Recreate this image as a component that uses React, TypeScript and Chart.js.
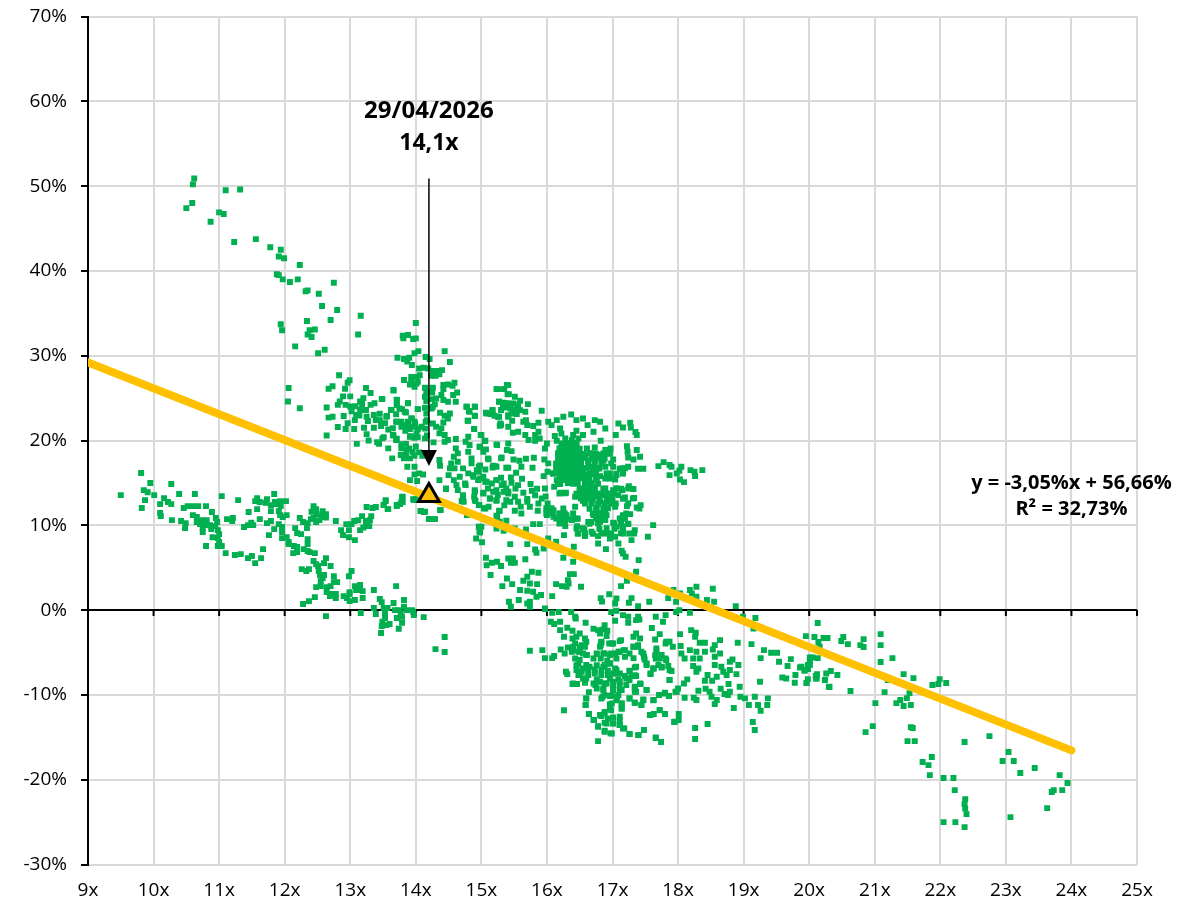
import React, { useEffect, useRef } from "react";
import { Chart, registerables } from "chart.js";

Chart.register(...registerables);

// multiple (x) , forward return % (y)
const upperLeftArm: number[][] = [[10.62,50.9],[10.6,50.2],[10.59,48],[10.5,47.4],[11.1,49.5],[11.32,49.6],[11,46.9],[11.07,46.7],[10.87,45.8],[11.23,43.4],[11.56,43.75],[11.78,42.8],[11.94,42.5],[11.91,41.7],[11.99,41.5],[12.23,40.7],[11.88,39.6],[11.91,39.5],[11.97,39],[12.08,38.7],[12.2,39],[12.75,38.6],[12.32,37.6],[12.35,37.7],[12.52,37.3],[12.57,35.85],[12.8,35.4],[13.16,34.7],[12.7,34.2],[12.34,34.1],[11.94,33.7],[11.96,33],[12.46,33.1],[12.38,33],[12.35,32.5],[12.41,32.2],[13.12,32.5],[12.16,31.1],[12.61,30.7],[12.51,30.3],[12.06,26.2],[12.05,24.6],[12.23,23.8]];

const upperMidCluster: number[][] = [[12.83,27.7],[12.99,27.1],[12.96,26.8],[12.73,26.4],[12.67,26.1],[12.92,26.1],[13.24,26.2],[13.31,25.6],[13.66,25.9],[13,25.2],[12.89,25.2],[13.2,25],[13.15,24.6],[13.48,24.9],[13.71,24.8],[12.64,23.9],[12.81,24.2],[12.84,24.6],[12.93,24.2],[13,24],[13.31,24.2],[13.37,24.4],[13.71,24.2],[13.88,24.4],[14.03,23.7],[13.24,23.6],[13.15,23.6],[13.62,23.6],[13.79,23.7],[13.85,23.3],[12.9,22.9],[12.73,22.8],[12.67,22.7],[13.09,23],[13.25,22.8],[13.36,23],[13.56,22.9],[13.45,22.4],[13.27,22.3],[13.39,22.4],[13.53,22.05],[13.07,22.4],[12.96,22.05],[12.81,21.6],[12.93,21.35],[13.06,21.35],[13.21,21.5],[13.36,21.5],[13.47,21.7],[13.71,22.2],[13.79,21.8],[13.88,22],[13.94,22.6],[13.99,22],[13.91,21.35],[14.03,21.3],[14.14,21.4],[14.17,22.4],[12.64,20.6],[13.25,20.75],[13.1,19.6],[13.28,20],[13.41,19.8],[13.44,19.6],[13.51,20.4],[13.66,20.6],[13.71,20.2],[13.92,20.5],[14.03,20.4],[14.17,20.6],[13.02,23.45],[13.08,24.05],[13.18,24.3],[13.14,22.95],[13.45,23.15],[13.58,21.3],[13.65,21.45],[13.84,21.15],[13.7,23.1]];

const peakCluster: number[][] = [[14,33.85],[13.8,32.35],[13.88,32.43],[13.81,32.04],[14,32.04],[13.96,31.96],[14.04,30.54],[13.98,30.3],[14.44,30.54],[13.72,29.76],[13.82,29.6],[13.9,29.76],[13.87,29.3],[13.94,28.9],[14.15,29.84],[14.21,29.6],[14.52,29.25],[14.05,28.5],[14.12,28.58],[14.19,28.5],[14.4,28.3],[14.32,28.2],[14.26,28.2],[14.24,27.64],[14.3,27.64],[14.36,27.8],[13.82,27.13],[13.93,27.5],[14.01,27.5],[14.06,27.7],[13.93,26.93],[14.03,26.93],[13.91,26.6],[13.98,26.34],[14.01,26.73],[14.14,26.22],[14.26,26.22],[14.42,26.54],[14.49,26.6],[14.59,26.8],[14.56,26.46],[14.42,26.06],[14.25,25.67],[14.16,25.67],[14.63,25.67],[14.57,25.36],[13.66,25.95],[13.49,24.88],[13.71,24.77],[14.14,25.16],[14.39,25.36],[14.31,24.96],[14.24,24.88],[14.16,24.65],[14.42,24.77],[14.49,24.57],[14.61,24.57],[13.88,24.41],[13.71,24.18],[14.29,24.26],[14.26,23.98],[14.14,23.86],[14.03,23.7],[13.63,23.59],[13.75,23.78],[13.83,23.39],[14.77,23.98],[14.9,23.98],[14.81,23.47],[14.37,23.27],[14.52,23.19],[14.44,22.92],[14.9,22.92],[14.16,23.19],[14.24,23.78],[13.55,22.8],[13.93,22.6],[13.88,22.2],[13.7,22.2],[13.78,22.2],[13.98,22.2],[14.15,22.2],[14.26,22],[14.42,22.13],[14.49,22.6],[14.79,22.33],[15.08,23.19],[15.17,23.59],[15.2,22.92],[15.27,22.8],[15.23,26.06],[15.33,26.06],[15.39,26.54],[15.4,25.44],[15.27,24.57],[15.33,24.1],[15.39,24.37],[15.3,23.59],[15.41,22.99],[15.29,22]];

const lowerPeakCluster: number[][] = [[13.78,21.62],[13.88,21.43],[13.96,21.62],[14.03,21.43],[14.09,21.62],[14.31,21.62],[14.39,21.43],[14.44,20.64],[14.49,20.05],[14.61,20.17],[14.89,21.35],[15,20.64],[15.05,19.93],[15.28,21.74],[15.41,21.62],[13.49,20.25],[13.65,20.64],[13.7,20.05],[13.91,20.45],[14.01,20.84],[13.98,20.33],[14.14,20.25],[14.27,19.78],[14.36,20.84],[14.44,19.85],[14.8,20.45],[14.76,19.85],[14.82,19.46],[15.23,19.54],[14.97,19.27],[13.58,19.07],[13.78,19.07],[13.86,18.87],[13.64,17.89],[13.77,18.28],[13.82,17.89],[13.91,17.89],[13.98,18.2],[14.61,19.07],[14.64,18.48],[14.58,18.08],[14.8,18.68],[14.85,17.89],[15.1,17.89],[15.03,18.68],[15.3,17.89],[14.36,17.69],[14.37,17.02],[13.87,16.9],[13.98,16.9],[14.05,16.12],[14.11,16],[13.98,16],[14.54,17.3],[14.64,17.5],[14.52,16.71],[14.59,16.71],[14.72,16.71],[14.85,17.3],[14.96,16.9],[15.18,17.02],[15.23,16.9],[15.38,16.79],[13.91,15.33],[14.02,15.22],[14.36,15.33],[14.5,15.92],[14.58,15.33],[14.67,15.73],[14.8,16.12],[14.87,15.92],[14.96,16.32],[15.03,15.73],[14.95,15.33],[15.08,15.14],[15.23,15.33],[15.34,14.94],[14.62,14.74],[14.76,14.74],[14.46,14.27],[14.64,14.15],[14.9,14.15],[15.03,13.76],[15.18,13.96],[15.25,13.57],[15.41,13.96],[14.72,13.37],[14.89,13.37],[15.13,13.17],[15.23,12.97],[15.38,12.97],[14.7,12.86],[14.91,12.86],[14.96,12.39],[15.27,11.68],[15.23,11.13],[15.28,10.42],[13.54,12.97],[13.51,12.39],[13.58,11.91],[13.8,13.37],[13.78,12.78],[13.71,12.39],[13.96,13.09],[14.37,11.8],[14.07,11.68],[14.14,11.6],[14.2,10.73],[14.29,10.73],[14.96,9.83],[14.98,9.16],[14.78,11.2],[15.04,12],[13.78,19.55],[13.85,19.6],[13.9,19.05],[14,19.3],[14.05,18.6],[14.1,18.2],[13.95,18.65],[13.85,18.35]];

const leftArm: number[][] = [[9.5,13.56],[9.81,16.16],[9.95,14.98],[10.27,14.86],[9.85,14.15],[9.91,13.9],[10.01,13.56],[9.87,12.97],[10.16,13.2],[10.1,12.5],[10.22,12.74],[10.27,12.5],[10.39,13.68],[10.63,13.68],[9.82,12.03],[10.1,11.44],[10.11,11.08],[10.28,10.61],[10.42,10.5],[10.49,10.26],[10.48,9.67],[10.46,12.03],[10.52,12.26],[10.6,12.26],[10.68,12.26],[10.8,12.26],[10.6,11.2],[10.66,10.97],[10.89,11.56],[11.04,13.44],[11.29,12.97],[10.66,10.38],[10.74,10.6],[10.81,10.6],[10.95,10.85],[10.97,10.38],[10.71,10.14],[10.78,10.02],[10.86,10],[10.94,9.9],[10.75,9.2],[10.75,9.67],[10.88,9.55],[10.98,9.43],[11,8.96],[10.9,8.6],[10.98,8.5],[11,8.02],[10.98,7.55],[10.8,7.55],[11.04,7.55],[11.1,6.72],[11.24,6.49],[11.33,6.6],[11.44,6.13],[11.5,6.37],[11.55,5.54],[11.64,6.13],[11.67,7.19],[11.12,10.73],[11.21,10.85],[11.2,10.5],[11.38,9.79],[11.44,10.02],[11.49,10.3],[11.52,10.02],[11.45,11.56],[11.62,10.73],[11.73,10.26],[11.79,10.5],[11.76,8.84],[11.84,9.55],[11.91,10.14],[11.58,13.2],[11.55,12.85],[11.58,11.91],[11.73,13.09],[11.84,13.68],[11.71,12.66],[11.79,12.38],[11.79,11.67],[11.62,12.74],[11.85,12.74],[11.93,12.85],[12.02,12.85],[11.94,12.26],[11.87,12.5],[11.91,11.67],[12.03,11.2],[11.97,10.97],[11.93,11.2]];

const midArm: number[][] = [[11.96,9.79],[11.96,9.2],[11.96,8.49],[12.03,8.6],[12.06,8.02],[12.06,7.78],[12.14,7.55],[12.19,7.43],[12.19,6.84],[12.13,6.72],[12.16,9.67],[12.23,10.85],[12.28,10.38],[12.19,9.08],[12.25,8.96],[12.34,9.67],[12.35,10.26],[12.4,10.73],[12.44,10.85],[12.48,10.38],[12.53,10.61],[12.44,12.26],[12.48,11.91],[12.49,11.32],[12.58,11.67],[12.63,11.32],[12.63,10.93],[12.57,10.97],[12.41,11.6],[12.78,10.5],[12.35,8.37],[12.35,7.78],[12.29,7.19],[12.35,6.96],[12.38,6.84],[12.46,6.72],[12.44,5.78],[12.48,5.42],[12.51,5.19],[12.6,5.54],[12.63,6.13],[12.7,5.19],[12.26,4.83],[12.33,4.6],[12.37,4.83],[12.52,4.6],[12.54,4.13],[12.6,4.13],[12.58,3.77],[12.75,4],[12.8,3.3],[12.75,3.3],[12.98,4],[13.02,4.6],[12.48,2.71],[12.55,2.83],[12.55,3.42],[12.46,1.53],[12.37,1.06],[12.28,0.71],[12.63,-0.71],[12.64,2.71],[12.7,2.83],[12.64,2.12],[12.7,1.89],[12.78,1.42],[12.78,1.89],[12.69,1.65],[12.9,1.65],[12.95,1.42],[12.99,1.06],[13.07,1.18],[12.99,2.12],[13.07,2.83],[13.15,2.95],[13.09,2.36],[13.15,2.36],[13.19,1.42],[12.99,1.89],[13.19,2.24],[13.36,2.36],[13.7,2.83]];

const zeroCluster: number[][] = [[13.45,1.3],[13.48,0.94],[13.36,0.24],[13.51,0.24],[13.57,0.24],[13.66,0.83],[13.82,1.18],[13.16,-0.35],[13.39,-0.47],[13.53,-0.35],[13.68,0],[13.73,0],[13.77,-0.35],[13.82,0.39],[13.86,0],[13.94,0],[13.97,-0.59],[14.12,-0.83],[13.96,-0.2],[13.53,-0.94],[13.49,-1.38],[13.55,-1.77],[13.6,-1.65],[13.48,-1.89],[13.47,-2.71],[13.71,-0.94],[13.79,-1.49],[13.74,-2.2],[13.79,-0.79],[14.44,-3.18],[14.3,-4.6],[14.44,-4.95]];

const risingArm: number[][] = [[12.86,9.43],[12.89,8.84],[12.98,9.43],[12.98,8.6],[13.07,8.25],[13.15,9.43],[13.2,9.75],[13.24,9.9],[12.94,10.14],[13.02,10.14],[13.06,10.5],[13.12,10.6],[13.18,11.08],[13.24,10.5],[13.3,10.6],[13.32,11.08],[13.29,9.9],[13.25,12.15],[13.34,12.03],[13.39,12.15],[13.51,12.38],[13.54,12.85],[13.57,11.91],[13.71,12.26],[13.76,12.5],[13.79,13.33],[13.8,12.74],[13.97,12.97],[14,13.09],[14.08,11.67],[14.12,11.56],[14.2,10.73],[14.25,10.73],[14.29,10.73],[14.38,11.79]];

const centreUpper: number[][] = [[15.24,26.06],[15.41,26.53],[15.35,26.06],[15.42,25.47],[15.51,25.15],[15.59,24.68],[15.27,24.57],[15.34,24.45],[15.41,24.37],[15.49,24.37],[15.56,24.17],[15.71,24.29],[15.36,23.9],[15.44,23.78],[15.51,23.66],[15.59,23.58],[15.47,23.19],[15.54,23.11],[15.67,23.39],[15.92,23.5],[15.07,23.27],[15.17,23.5],[15.14,23.11],[15.25,22.8],[15.41,22.8],[15.47,22.33],[15.68,22.4],[14.78,23.98],[14.9,23.98],[14.82,23.39],[14.9,22.88],[14.8,22.33],[15.3,21.85],[16.02,22.2],[16.15,22.4],[16.25,22.8],[16.37,23.07],[16.45,22.4],[16.55,22.6],[16.73,22.4],[16.81,22.2],[17.09,22],[17.27,22.09],[17.16,21.54],[17.28,21.54],[17.37,20.64],[17.35,21],[17.05,20.64],[15.64,22.2],[15.7,21.81],[15.87,22.09],[15.79,21.7],[16.07,21.81],[16.2,21.42],[16.62,21.81],[16.89,21.42],[15.48,20.91],[15.56,21.03],[15.67,20.64],[15.87,21.03],[15.82,20.64],[16.12,20.52],[16.22,20.83],[16.45,21.15],[16.55,20.64],[16.71,21.03],[16.4,20.64],[15.72,20.05],[15.82,19.97],[15.89,20.24],[16,19.65],[16.15,19.97],[16.82,19.97],[15.24,19.46],[15.41,19.65],[14.98,19.26],[15.06,19.97],[14.99,20.64],[14.89,21.34],[15.97,19.06],[16.28,20.24],[16.38,20.05],[16.48,20.24],[16.25,19.46],[16.35,19.46],[16.45,19.46],[16.61,19.06],[16.73,19.18],[16.89,18.87],[16.97,19.06],[17.22,19.34],[17.37,18.87],[17.23,18.67]];

const centreDense: number[][] = [[15.07,18.95],[15.39,18.87],[15.46,18.75],[15.31,18],[15.11,17.8],[15.49,17.77],[15.58,17.61],[15.68,17.84],[15.8,17.96],[15.96,17.77],[16.02,17.3],[16.17,18.47],[16.28,18.67],[16.38,18.55],[16.48,18.67],[16.58,18.28],[16.71,18.47],[16.81,18.28],[16.91,18.47],[17.24,18],[17.42,18.08],[17.32,17.77],[17.01,17.77],[16.2,17.69],[16.3,17.77],[16.4,17.61],[16.5,17.69],[16.63,17.61],[16.73,17.69],[16.86,17.61],[16.15,16.9],[16.25,16.9],[16.35,16.9],[16.45,16.9],[16.55,16.7],[16.66,16.9],[16.76,16.7],[16.89,16.9],[17.01,16.9],[17.14,16.7],[17.24,16.9],[17.47,16.66],[17.39,16.66],[15.41,16.78],[15.21,16.98],[15.17,16.82],[14.98,17.06],[15.06,16.59],[14.93,16.51],[15.53,16.19],[15.61,16.9],[15.78,16.78],[15.95,15.8],[16.01,16.31],[16.1,16.11],[16.2,16.11],[16.3,16.11],[16.4,15.92],[16.5,16.11],[16.61,15.92],[16.71,16.04],[16.81,15.8],[16.96,16.11],[17.06,15.92],[17.16,16.11],[14.88,15.72],[14.98,15.53],[14.75,14.94],[15.06,15.13],[15.16,14.94],[15.23,15.33],[15.31,14.74],[15.46,15.01],[15.56,14.74],[15.75,14.86],[16.15,15.33],[16.25,15.33],[16.38,15.13],[16.61,15.13],[16.76,15.33],[16.89,15.53],[17.04,15.41],[15.97,14.35],[16.11,14.54],[16.2,14.86],[16.5,14.35],[16.61,14.46],[16.73,14.54],[16.89,14.35],[17.01,14.15],[17.15,14.15],[17.25,14.62],[17.32,14.27],[14.46,14.35],[14.9,13.95],[15.03,13.83],[15.23,14.15],[15.34,13.95],[15.41,13.76],[15.51,13.36],[15.64,13.83],[15.77,14.07],[16.21,13.83],[16.29,13.83],[16.43,13.36],[16.53,13.56],[16.63,13.36],[16.76,13.44],[16.86,13.56],[16.99,13.44],[17.09,13.56],[17.19,13.28],[17.33,13.21],[14.72,13.56],[14.73,12.77],[14.9,12.97],[15.13,13.17],[15.23,12.89],[15.44,12.77],[15.56,12.77],[15.7,12.77],[15.92,13.17],[15.87,12.58],[16.01,12.58],[16.55,12.89],[16.68,12.77],[16.81,12.77],[16.96,12.77],[17.05,12.58],[17.22,12.26],[17.43,12.38],[17.37,12.1],[15.3,15.6],[15.45,15.65],[15.62,15.5],[15.7,13.1],[15.85,14.3],[15.38,14.35],[15.52,14.35],[15.1,14.35],[15.82,13.55],[15.98,13.4],[15.35,12.35],[15.6,12.2]];

const centreBlob: number[][] = [[16.22,19.65],[16.3,19.7],[16.37,19.6],[16.45,19.68],[16.19,19.06],[16.27,19.1],[16.35,19],[16.42,19.08],[16.5,19.02],[16.17,18.47],[16.25,18.42],[16.32,18.5],[16.4,18.44],[16.47,18.5],[16.55,18.4],[16.65,18.5],[16.75,18.44],[16.86,18.47],[16.96,18.42],[16.17,17.88],[16.25,17.92],[16.32,17.84],[16.4,17.9],[16.47,17.85],[16.55,17.92],[16.68,17.86],[16.78,17.9],[16.88,17.84],[16.14,17.29],[16.22,17.33],[16.3,17.26],[16.37,17.31],[16.45,17.25],[16.52,17.3],[16.63,17.27],[16.73,17.32],[16.83,17.26],[16.98,17.3],[16.14,16.7],[16.22,16.66],[16.3,16.72],[16.37,16.67],[16.45,16.73],[16.52,16.68],[16.6,16.72],[16.7,16.65],[16.8,16.7],[17.11,16.68],[17.19,16.72],[16.09,16.11],[16.17,16.15],[16.25,16.08],[16.32,16.13],[16.4,16.07],[16.47,16.14],[16.55,16.09],[16.65,16.13],[16.75,16.08],[16.91,16.12],[17.06,16.08],[17.16,16.14],[16.19,15.52],[16.27,15.48],[16.35,15.54],[16.42,15.49],[16.5,15.55],[16.58,15.5],[16.65,15.54],[16.75,15.48],[16.96,15.52],[16.17,14.93],[16.32,14.97],[16.4,14.9],[16.47,14.95],[16.58,14.9],[16.68,14.96],[16.78,14.91],[16.5,14.34],[16.58,14.38],[16.65,14.31],[16.73,14.36],[16.86,14.32],[17.06,14.37],[17.13,14.31],[17.24,14.35],[16.19,13.75],[16.27,13.78],[16.45,13.72],[16.52,13.77],[16.6,13.73],[16.68,13.78],[16.75,13.72],[16.83,13.76],[16.93,13.74],[17.03,13.78],[16.52,13.16],[16.6,13.2],[16.7,13.14],[16.8,13.18],[16.91,13.13],[17,13.19],[17.16,13.14],[17.31,13.17],[16.58,12.57],[16.68,12.6],[16.78,12.54],[16.88,12.58],[16.98,12.55],[17.24,12.6],[15.99,11.98],[16.07,12.02],[16.65,11.96],[16.75,12.01],[16.86,11.95],[16.93,12],[17.41,11.97],[15.99,11.39],[16.09,11.43],[16.19,11.36],[16.27,11.41],[16.7,11.38],[16.78,11.42],[16.86,11.36],[17.21,11.4],[16.14,10.8],[16.22,10.84],[16.3,10.77],[16.4,10.82],[16.47,10.78],[16.75,10.83],[16.86,10.77],[17.11,10.82],[17.19,10.78],[16.19,10.21],[16.27,10.25],[16.65,10.18],[16.78,10.23],[17.03,10.19],[17.13,10.24],[17.24,10.2],[16.45,9.63],[16.55,9.66],[16.8,9.6],[16.91,9.65],[17.03,9.6],[17.16,9.64],[16.47,9.04],[16.58,9.08],[16.7,9.01],[16.83,9.06],[16.98,9.02],[17.13,9.07],[17.26,9.03]];

const centreLower: number[][] = [[14.97,12.38],[15.11,12.18],[15.06,11.99],[15.28,11.71],[15.51,11.71],[15.61,11.4],[15.74,12.18],[15.86,11.71],[16,11.79],[16.1,11.79],[16.25,11.99],[16.43,12.18],[16.76,11.99],[16.89,11.79],[17.04,12.18],[17.27,11.32],[17.16,11.2],[16,11.2],[16.1,11],[16.2,11.4],[16.3,11.2],[16.4,11.4],[16.28,10.61],[16.38,10.61],[16.45,10.81],[16.71,11.2],[16.81,11],[16.91,11.2],[15.24,11],[15.38,10.53],[15.79,10.14],[15.89,10.14],[16.28,9.9],[16.63,10.38],[16.68,10.38],[16.81,10.42],[16.89,10.61],[17.01,10.3],[17.14,10.81],[17.24,10.14],[17.06,9.83],[17.15,9.9],[17.62,10.02],[15,9.83],[14.97,9.24],[14.92,8.45],[15.01,8],[15.23,9.63],[15.34,9.35],[15.51,9.63],[15.68,9.51],[16.26,8.84],[16.46,9.9],[16.48,9.04],[16.57,9.51],[16.58,8.72],[16.68,9.24],[16.78,8.72],[16.86,9.04],[16.94,9.04],[16.96,8.45],[17.04,8.65],[17.17,9.04],[17.29,8.25],[17.34,9.43],[17.54,8.65],[17.33,9.04],[15.44,7.78],[15.7,7.78],[16.02,8.45],[16.14,8.06],[15.82,7.15],[15.84,6.76],[15.95,7.27],[16.41,7.47],[16.78,7.86],[16.9,7.19],[17.09,7.86],[17.14,6.99],[17.16,6.68],[17.2,6.29],[16.25,6.17],[16.4,5.7],[17.4,5.89],[15.07,6.17],[15.08,5.3],[15.16,5.58],[15.24,5.7],[15.3,5.19],[15.41,6.09],[15.48,6.09],[15.45,5.58],[15.51,5.58],[15.67,6],[17.36,4.52],[15.14,4.13],[15.39,3.73],[15.32,2.83],[15.47,3.06],[15.7,3.93],[15.77,4.52],[15.87,4.4],[15.64,3.46],[15.74,3.14],[15.85,3.06],[15.59,2.36],[15.7,2.28],[15.79,2.16],[15.91,1.77],[15.84,1.57],[15.57,1.18],[15.42,0.98],[15.45,0.39],[15.74,0.98],[15.7,0.78],[15.74,0.39],[15.97,0.2],[16.08,1.65],[16.14,3.06],[16.23,2.83],[16.3,2.75],[16.32,3.53],[16.35,4.24],[16.41,4.24],[16.33,3.14],[16.52,2.75],[17.13,2.83],[17.22,3.46],[16.95,1.88],[16.82,1.41],[16.84,1],[17.06,1.37],[17.29,1.41],[17.25,0.86],[17.39,0.47],[17.56,0.98],[17.04,0.78],[17.85,1.41],[17.97,0.98],[18.18,2.36],[18.28,2.75],[18.21,1.96],[18.28,1.57],[18.53,2.51],[18.44,1.18],[18.55,0.98],[18.88,0.47],[17.93,2.36],[18.03,1.96]];

const rightIsland: number[][] = [[17.7,16.98],[17.78,17.45],[17.87,17.1],[17.9,16.9],[17.87,15.92],[17.98,16.11],[18.05,16.9],[18.02,16.43],[18.19,16.51],[18.26,15.8],[18.25,16.31],[18.03,15.41],[18.09,15.09],[18.37,16.51]];

const belowZero: number[][] = [[15.97,0.12],[16.08,-0.31],[16.18,-0.23],[16.37,-0.23],[16.43,-0.78],[16.44,-0.98],[16.98,-0.23],[17.06,-0.08],[17.16,-0.59],[17.24,-0.78],[17.39,-0.78],[17.66,-0.78],[17.81,-0.59],[17.97,-0.23],[18.02,0],[18.18,-0.31],[18.99,-0.78],[19.18,-0.94],[16.06,-1.37],[16.11,-1.65],[16.2,-1.37],[16.59,-1.49],[16.88,-1.77],[17.04,-1.26],[17.24,-1.49],[17.36,-1.18],[17.41,-1.1],[17.77,-1.37],[17.6,-2.12],[16.2,-2.36],[16.31,-2.08],[16.39,-2.44],[16.71,-2.2],[16.78,-2.36],[16.86,-2.28],[16.92,-2.44],[16.81,-2.75],[16.91,-3.06],[18.2,-2.36],[18.27,-2.67],[18.03,-2.83],[19.15,-2.16],[16.26,-3.14],[16.5,-2.75],[16.58,-3.34],[16.39,-3.34],[16.45,-3.14],[17.13,-3.54],[17.32,-3.14],[17.36,-2.75],[17.42,-3.34],[17.65,-3.46],[17.72,-2.83],[18.26,-3.14],[18.64,-3.54],[18.91,-3.85],[19.12,-4.01],[16.83,-3.85],[17.01,-3.93],[16.95,-3.93],[17.81,-3.93],[17.87,-3.73],[18.04,-4.24],[18.33,-3.85],[18.41,-3.85],[18.56,-4.13],[16.21,-4.64],[16.32,-4.4],[16.4,-4.32],[16.5,-4.32],[16.58,-4.32],[16.82,-4.13],[17.32,-4.32],[17.39,-4.32],[17.92,-4.32],[18.53,-4.64],[19.31,-4.72],[19.42,-5.03],[19.51,-5.03],[15.93,-4.72],[15.74,-4.8],[15.97,-5.66],[16.08,-5.66],[16.11,-5.42],[16.27,-5.11],[16.38,-4.91],[16.48,-4.91],[16.55,-5.11],[16.61,-5.3],[16.76,-5.19],[16.86,-5.11],[16.98,-5.11],[17.09,-4.91],[17.17,-4.72],[17.26,-5.11],[17.47,-5.11],[17.67,-4.91],[17.75,-5.3],[18.18,-4.72],[18.28,-4.91],[18.41,-4.91],[18.64,-5.11],[18.05,-5.11]];

const belowZeroMid: number[][] = [[16.43,-5.7],[16.5,-5.89],[16.71,-5.7],[16.82,-5.7],[16.92,-5.97],[17.06,-5.7],[17.19,-5.5],[17.32,-5.66],[17.49,-5.82],[17.52,-6.48],[17.66,-5.7],[17.81,-5.7],[18.1,-5.7],[18.23,-5.7],[18.33,-5.7],[18.56,-5.5],[18.83,-5.82],[19.26,-5.66],[19.54,-6.09],[19.72,-5.78],[16.6,-6.48],[16.48,-6.37],[16.88,-6.48],[16.96,-6.29],[17.36,-6.68],[17.63,-6.88],[17.7,-6.48],[17.75,-6.76],[17.85,-6.6],[18.23,-6.6],[18.31,-6.88],[18.56,-6.48],[18.66,-6.68],[18.79,-6.09],[18.92,-6.48],[19.67,-6.6],[20.01,-6.48],[19.86,-6.76],[16.29,-7.27],[16.45,-7.07],[16.53,-7.27],[16.63,-7.07],[16.73,-6.99],[16.83,-7.07],[16.93,-7.15],[17.06,-7.07],[17.26,-7.19],[17.9,-7.19],[18.28,-7.27],[18.69,-7.27],[18.79,-7.07],[18.89,-7.55],[19.93,-7.07],[19.98,-6.88],[16.31,-7.55],[16.48,-7.66],[16.63,-7.66],[17.07,-7.47],[17.19,-7.78],[17.36,-7.78],[17.29,-7.78],[17.58,-7.55],[18.45,-7.66],[18.59,-7.86],[18.74,-7.66],[19.59,-7.94],[19.65,-8.06],[19.79,-7.66],[20.11,-7.78],[20.26,-7.47],[16.55,-8.06],[16.76,-8.17],[16.96,-8.06],[17.09,-8.17],[17.26,-8.25],[17.87,-8.25],[18.14,-8.17],[18.41,-8.33],[18.52,-8.33],[19.25,-8.45],[19.78,-8.57],[19.96,-8.57],[20.24,-8.25],[20.11,-8.06],[18.09,-8.65],[16.39,-8.72],[16.46,-8.72],[16.58,-8.57],[16.74,-8.84],[16.88,-8.65],[17.01,-8.84],[17.11,-8.84],[17.21,-8.84],[17.43,-8.72],[18,-9.24],[18.77,-8.72],[18.94,-9.04],[20.3,-9.04]];

const belowZeroLow: number[][] = [[16.64,-9.67],[16.76,-9.24],[16.86,-9.43],[17.01,-9.43],[17.14,-9.43],[17.34,-9.24],[17.36,-9.63],[17.52,-9.43],[17.96,-9.63],[18.31,-9.51],[18.42,-9.28],[18.48,-9.63],[18.65,-9.28],[18.79,-9.63],[18.71,-9.9],[16.6,-10.41],[16.85,-10.22],[16.96,-10.14],[17.07,-10.22],[17.26,-10.41],[17.47,-10.53],[17.63,-10.61],[17.71,-10.02],[17.8,-9.75],[17.86,-10.14],[18.1,-10.33],[18.24,-10.33],[18.28,-10.61],[18.51,-10.22],[18.59,-10.61],[18.76,-10.02],[18.95,-10.22],[19.02,-10.41],[19.17,-10.22],[19.37,-10.41],[16.59,-11.2],[16.26,-11.8],[17.34,-10.93],[17.44,-11.2],[16.96,-11.09],[17.14,-11.02],[18.56,-11.09],[18.85,-11.55],[19.08,-11.2],[19.22,-11.2],[19.36,-11.2],[19.26,-11.87],[16.64,-12.26],[16.98,-11.8],[16.88,-12],[17.14,-11.6],[17.57,-12.38],[17.63,-12.26],[17.72,-11.8],[17.8,-12.26],[18.01,-12.26],[16.71,-12.97],[16.83,-12.5],[16.93,-12.77],[17.11,-12.58],[18.01,-12.97],[17.94,-13.2],[19.14,-13.2],[18.45,-13.44],[16.78,-13.68],[16.88,-13.28],[17.01,-13.36],[17.11,-13.56],[18.26,-13.91],[19.17,-14.15],[17.48,-14.15],[16.88,-14.23],[16.97,-14.54],[17.18,-13.95],[17.26,-14.62],[17.4,-14.74],[17.66,-15.09],[17.74,-15.56],[18.26,-15.21],[16.78,-15.45]];

const belowBlob: number[][] = [[16.43,-3.93],[16.53,-4.13],[16.6,-3.74],[16.4,-4.72],[16.5,-4.92],[16.6,-5.31],[16.83,-3.74],[16.81,-4.33],[16.99,-3.93],[17.11,-3.66],[16.76,-5.11],[16.88,-5.11],[16.96,-5.31],[17.04,-5.11],[17.11,-4.92],[17.19,-4.72],[17.32,-4.33],[17.39,-4.13],[17.44,-4.92],[17.48,-5.5],[17.52,-6.29],[17.67,-4.52],[17.65,-5.31],[17.72,-5.7],[17.82,-3.74],[17.82,-5.9],[17.87,-7.08],[17.87,-8.26],[17.62,-6.88],[17.58,-7.47],[17.75,-6.68],[16.45,-6.49],[16.55,-6.88],[16.65,-6.68],[16.76,-6.49],[16.86,-6.68],[16.96,-6.29],[17.04,-6.88],[17.11,-7.47],[17.21,-8.06],[17.34,-7.67],[17.26,-7.16],[17.34,-6.76],[16.5,-7.47],[16.6,-8.06],[16.58,-8.45],[16.71,-8.65],[16.81,-8.45],[16.91,-8.65],[17.01,-8.45],[17.11,-8.45],[16.93,-7.67],[16.83,-7.67],[16.73,-7.47],[16.4,-8.65],[17.01,-7.47],[17.42,-8.65],[17.34,-9.04],[17.34,-9.63],[17.52,-9.44],[16.86,-9.24],[17.01,-9.24],[17.11,-9.44],[16.88,-10.03],[16.99,-10.03],[17.09,-10.03],[16.83,-10.42],[17.06,-10.62],[16.99,-11.01],[17.14,-11.01],[17.14,-11.6],[16.96,-11.6],[16.6,-10.42],[16.59,-11.2],[17.26,-10.42],[17.34,-10.93],[17.47,-10.62],[17.44,-11.2],[17.62,-10.62],[17.71,-10.03],[17.8,-9.83],[17.86,-10.14],[17.98,-9.63],[17.58,-12.38],[17.72,-11.79],[17.8,-12.27],[17.95,-13.17],[16.64,-12.27],[16.72,-12.97],[16.81,-12.38],[16.88,-12.19],[16.78,-13.76],[16.88,-14.35],[16.99,-14.55],[16.91,-13.37],[17.01,-13.37],[17.11,-12.97],[17.01,-12.66],[17.16,-13.96],[17.11,-13.56],[17.26,-14.62],[17.39,-14.74],[17.48,-14.15],[17.66,-15.02],[16.43,-8.73]];

const rightTail: number[][] = [[20.13,-1.53],[19.95,-3.07],[20.08,-3.18],[20.22,-3.3],[20.28,-3.3],[20.14,-3.77],[20.16,-4.32],[20.52,-3.18],[20.49,-3.65],[20.59,-4.01],[20.83,-3.42],[20.78,-4.13],[20.83,-4.36],[21.09,-2.83],[21.09,-4.13],[21.09,-6.13],[21.27,-5.66],[20.01,-5.58],[20.05,-5.58],[20.13,-5.66],[20.01,-6.01],[19.98,-6.48],[19.88,-6.68],[19.93,-7.15],[19.98,-6.96],[20.12,-7.55],[20.1,-7.78],[20.33,-7.19],[20.43,-7.66],[20.24,-8.25],[19.98,-8.14],[19.96,-8.6],[20.11,-8.06],[20.31,-9.08],[20.63,-9.55],[21.15,-9.67],[21.01,-10.97],[21.33,-10.97],[21.39,-10.61],[21.49,-10.38],[21.53,-9.79],[21.44,-11.32],[21.55,-11.2],[21.44,-7.55],[21.59,-8.02],[21.2,-8.25],[21.88,-8.84],[21.97,-8.72],[21.99,-8.14],[22.09,-8.6],[20.97,-13.68],[20.86,-14.39],[21.55,-13.8],[21.58,-13.91],[21.5,-15.45],[21.61,-15.45],[21.87,-17.33],[21.73,-17.92],[21.82,-18.28],[21.84,-19.46],[22.05,-19.81],[22.2,-19.81],[22.22,-21.23],[22.37,-15.56],[22.75,-14.86],[23.04,-16.74],[22.95,-17.8],[23.12,-17.8],[23.22,-19.22],[23.44,-18.63],[23.82,-19.46],[23.94,-20.4],[23.73,-21.23],[23.7,-21.46],[23.86,-21.23],[23.63,-23.35],[23.07,-24.41],[22.38,-22.29],[22.37,-22.88],[22.38,-23.39],[22.4,-24.06],[22.05,-25],[22.23,-25],[22.37,-25.59]];

const history = [upperLeftArm, upperMidCluster, peakCluster, lowerPeakCluster, leftArm, midArm, zeroCluster, risingArm, centreUpper, centreDense, centreBlob, centreLower, rightIsland, belowZero, belowZeroMid, belowZeroLow, belowBlob, rightTail];

const trendX = [9, 24];
const trendY = [29.21, -16.54];
const currentX = [14.2];
const currentY = [13.5];
const arrowX = 14.2;
const arrowFromY = 50.9;
const arrowToY = 17;
const dateLabel = "29/04/2026";
const currentLabel = "14,1x";
const equationLabel = "y = -3,05%x + 56,66%";
const r2Label = "R² = 32,73%";

const FONT = '"Open Sans", sans-serif';

const axisPlugin = {
  id: "zeroAxis",
  beforeDatasetsDraw(chart: any) {
    const { ctx, scales } = chart;
    const { x, y } = scales;
    const y0 = y.getPixelForValue(0);
    ctx.save();
    ctx.strokeStyle = "#000";
    ctx.lineWidth = 2;
    ctx.beginPath();
    ctx.moveTo(x.left, y0);
    ctx.lineTo(x.right, y0);
    for (let v = 10; v <= 25; v++) {
      const px = x.getPixelForValue(v);
      ctx.moveTo(px, y0);
      ctx.lineTo(px, y0 + 6);
    }
    ctx.stroke();
    ctx.restore();
  },
  afterDatasetsDraw(chart: any) {
    const { ctx, scales } = chart;
    const { x, y } = scales;
    const ax = x.getPixelForValue(arrowX);
    const top = y.getPixelForValue(arrowFromY);
    const tip = y.getPixelForValue(arrowToY);
    ctx.save();
    ctx.strokeStyle = "#000";
    ctx.fillStyle = "#000";
    ctx.lineWidth = 1.5;
    ctx.beginPath();
    ctx.moveTo(ax, top);
    ctx.lineTo(ax, tip - 14);
    ctx.stroke();
    ctx.beginPath();
    ctx.moveTo(ax - 8, tip - 16);
    ctx.lineTo(ax + 8, tip - 16);
    ctx.lineTo(ax, tip);
    ctx.closePath();
    ctx.fill();
    ctx.textAlign = "center";
    ctx.textBaseline = "middle";
    ctx.font = `bold 24px ${FONT}`;
    ctx.fillText(dateLabel, ax, y.getPixelForValue(58.8));
    ctx.font = `bold 23px ${FONT}`;
    ctx.fillText(currentLabel, ax, y.getPixelForValue(55));
    ctx.font = `bold 20px ${FONT}`;
    const ex = x.getPixelForValue(24);
    ctx.fillText(equationLabel, ex, y.getPixelForValue(15));
    ctx.fillText(r2Label, ex, y.getPixelForValue(11.9));
    ctx.restore();
  },
};

export default function App() {
  const ref = useRef<HTMLCanvasElement>(null);
  useEffect(() => {
    const chart = new Chart(ref.current as HTMLCanvasElement, {
      type: "scatter",
      plugins: [axisPlugin],
      data: {
        datasets: [
          {
            label: "Current",
            data: currentX.map((x, i) => ({ x, y: currentY[i] })),
            pointStyle: "triangle",
            pointRadius: 12,
            pointBackgroundColor: "#FFC000",
            pointBorderColor: "#000000",
            pointBorderWidth: 3,
          },
          {
            label: "Trend",
            data: trendX.map((x, i) => ({ x, y: trendY[i] })),
            showLine: true,
            borderColor: "#FFC000",
            borderWidth: 8,
            borderCapStyle: "round",
            pointRadius: 0,
          },
          {
            label: "History",
            data: history.flat().map(([x, y]) => ({ x, y })),
            pointStyle: "rect",
            pointRadius: 4.2,
            pointBorderWidth: 0,
            pointBackgroundColor: "#00B050",
          },
        ],
      } as any,
      options: {
        animation: false,
        responsive: false,
        events: [],
        layout: { padding: { top: 16.5, right: 49, left: 0, bottom: 0 } },
        plugins: { legend: { display: false }, tooltip: { enabled: false } },
        scales: {
          x: {
            type: "linear",
            position: "bottom",
            min: 9,
            max: 25,
            afterFit: (s: any) => { s.height = 39.5; s.paddingLeft = 0; s.paddingRight = 0; },
            border: { display: false },
            grid: { color: "#D9D9D9", lineWidth: 2, drawTicks: false },
            ticks: {
              stepSize: 1,
              padding: 15,
              maxRotation: 0,
              autoSkip: false,
              color: "#000",
              font: { family: FONT, size: 19 },
              callback: (v: any) => `${v}x`,
            },
          },
          y: {
            type: "linear",
            min: -30,
            max: 70,
            afterFit: (s: any) => { s.width = 88; s.paddingTop = 0; s.paddingBottom = 0; },
            border: { display: true, color: "#000", width: 2 },
            grid: { color: "#D9D9D9", lineWidth: 2, tickColor: "#000", tickLength: 7, tickWidth: 2 },
            ticks: {
              stepSize: 10,
              padding: 14,
              color: "#000",
              font: { family: FONT, size: 19 },
              callback: (v: any) => `${v}%`,
            },
          },
        },
      } as any,
    });
    return () => chart.destroy();
  }, []);
  return (
    <div style={{ position: "absolute", left: 0, top: 0, width: 1186, height: 904, background: "#fff" }}>
      <canvas ref={ref} width={1186} height={904} style={{ display: "block" }} />
    </div>
  );
}
